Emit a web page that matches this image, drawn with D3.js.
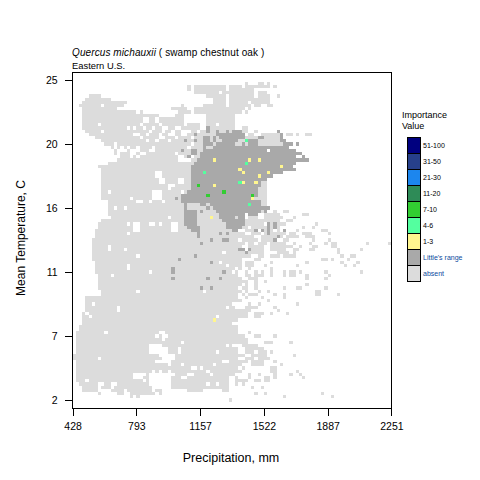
<!DOCTYPE html>
<html>
<head>
<meta charset="utf-8">
<script src="https://cdn.jsdelivr.net/npm/d3@7"></script>
<style>
  html, body { margin: 0; padding: 0; background: #fff; }
  text { font-family: "Liberation Sans", Arial, sans-serif; fill: #000; }
</style>
</head>
<body>
<svg id="chart" width="480" height="480"></svg>
<script>
const precipTicks = ['428', '793', '1157', '1522', '1887', '2251'];
const tempTicks = ['25', '20', '16', '11', '7', '2'];

const legendLabels = ['51-100', '31-50', '21-30', '11-20', '7-10', '4-6', '1-3', "Little's range", 'absent'];
const legendColors = ['#00007F', '#27408B', '#1C86EE', '#2E8B57', '#32CD32', '#54FF9F', '#FFF68F', '#A9A9A9', '#DCDCDC'];

// climate bins where the species is absent, one string per temperature row, "col" or "from-to"
const absentRows = [
  '', '', '',
  '54 58-59 61',
  '36 38-47 49-52 54-57 58-61 63',
  '36 38-47 49-56',
  '38-45 47-56 58-60',
  '5-8 42-47 49-56 58-61 64',
  '4-11 44-47 49-59 60-61',
  '3-16 44-47 49-54 56-60 61',
  '2-8 10-15 34 41-47 49-55 57-58 61-62',
  '3-13 31-35 38-53 55',
  '3-19 21 33-36 38-52 54',
  '3-26 32-34 42-50',
  '3-21 24-25 27-34 42-50',
  '3-21 24-25 27-34 42-50',
  '3-7 9-20 22-26 28-34 36-39 42-44 46-50',
  '3-16 18 20-21 23-24 26-27 30-31 34-39 43-50 53-54',
  '4-8 10-23 25-27 29-30 32-33 37-38 40-41 43-50 53-54 57',
  '5-18 21-22 24-26 28-29 32-33 36-50 55-56 59-64 67-68 70 73-74',
  '7-20 22-26 29-31 33-36 38-64',
  '9-22 24-25 27-29 31-64',
  '10-12 14-36 38-65',
  '12 14 16 18-19 21-24 26-35 37-60',
  '13-13 17 21-23 26-60',
  '13 15-17 20 23-31 33-60',
  '15-17 19 21-32 35-36 38-60',
  '14-32 37-38 41-60',
  '11-60',
  '8-60',
  '9-60',
  '9-25 28-60',
  '9-25 28-60',
  '9-26 29-32 35-60',
  '9-26 29-32 35-60',
  '9-29 32-60',
  '9-29 31-60',
  '9-10 12-24 28-33 35-60',
  '9-24 28-33 35-60',
  '9-17 19-24 28-60',
  '11-19 22-23 25-27 29-60',
  '11-60',
  '11-12 14-15 17-60',
  '11-60 63 66-67',
  '11-53 55-57 60-64 72-73',
  '12-29 31-51 53 55-57 60-65 69',
  '9-51 54-64 67-68',
  '8-16 18 21-23 26 28-30 33-51 52-59 61-62 64-66 76',
  '8-18 21-30 33-54 56-62 63-64 72 75',
  '7-18 21-30 33-51 54-57 59-62 64 66 70 78-79',
  '7-16 18-53 56-58 60-66 68-69 72-74 80',
  '7-56 59-65 67-70 73-75',
  '6-51 53-57 59-63 66-67 75 80',
  '6-53 55-56 58-60 62-66 69 74 79 81-82 92 99',
  '6-10 12-52 55-59 62-68 71 75-76 81-82',
  '6-10 12-15 17-53 55-59 62-66 69-70 74-75 83 90',
  '6-46 48-53 55-59 64-67 69 83',
  '6-19 21-55 58-59 62-64 66-69 84 87-88',
  '6-52 57-58 78-79 81 86',
  '7-45 47-50 51-52 54-56 62 73 84 89',
  '7-16 18-47 49-52 54-56 60 70 85 88',
  '7-16 18-50 52 55 62',
  '7-23 25-49 51 54 57 59 62 66 68-69 71 79 90',
  '8-11 13-51 54-55 57-59 62 66 68-69 73 80',
  '8-50 51-52 55-57 73 79',
  '8-53 54 57 60',
  '8-52 54 57 73',
  '8-51 53-54 57 66 70-71 79',
  '9-19 21-40 42-52 54 58 61 76-77',
  '9-51 53 55-57 63 66 76-77 83',
  '4-51 54 59 66',
  '4-52 61',
  '4-5 7-49 55 58 70',
  '4-13 15-47 49-50 54-57 63',
  '4-13 15-55 64',
  '3 5-54 57-59 62 67',
  '3-4 6-44 46-54 57-58',
  '3-51',
  '3-49',
  '2-51',
  '2-51',
  '1-9 11-26 29-51 55',
  '1-25 27 30-53 57-58 63',
  '1-27 29-54',
  '1-33 35-54 60-62 68',
  '1-23 28-47 49 53-57',
  '1-23 30-32 34-51 54-59',
  '1-23 30-32 34-44 46-51 54-56 58-60 62',
  '0-26 32-53 56-60 69',
  '0-7 9-27 32-51 54-56 58-61',
  '1-25 31-46 49-54 56-59 63',
  '1-29 31-33 35-43 45-52 56-59 65',
  '1-36 39 41-51 53 62-63',
  '1-24 26 28-29 31-41 43-52 62-63 70',
  '1-18 23 32-35 38-42 44-50 55 58 63 68 71',
  '1-18 22-23 31-33 36-48 51 55 60-61 63 72',
  '1-3 5-21 23 31-48 51-54 57-58 60-61',
  '2-7 10-11 14-23 31-41 43-44 46-48 51 53',
  '3-7 9-11 13-24 31-48 56 59',
  '3-7 12-15 17-24 26-27 36-40 47-48',
  '8 14-15 18-25 27 57 60 78',
  '18 20 66 81',
  '49'
];

// Little's range bins, painted over the absent ones; first entry is the row
const rangeRows = [
  [17, '42'], [18, '42 45 48 50-52 64'],
  [19, '38 45-53 65'],
  [20, '41-42 44 46-53 58-59 65'],
  [21, '35 38 41-42 44 47-51 55-57 65-66'],
  [22, '41-42 43 45-50 53 55-57 66-68 70'],
  [23, '41 44-67'],
  [24, '34 37-38 41-60 62-69'],
  [25, '37-38 40-71'],
  [26, '36 40-69 72'],
  [27, '39-73'],
  [28, '38-69'],
  [29, '37-68'],
  [30, '37-69'],
  [31, '37-65'],
  [32, '37-62'],
  [33, '37-60'],
  [34, '37-58'],
  [35, '37-58'],
  [36, '37-57'],
  [37, '36-57'],
  [38, '34-57'],
  [39, '32 34-56'],
  [40, '34-58'],
  [41, '35 40-41 43-58'],
  [42, '35 42 44-61'],
  [43, '35-38 40 45-58 60'],
  [44, '35-38 46-53 55-57'],
  [45, '35-38 46-50 52-53'],
  [46, '35-38 47-53'],
  [47, '35-38 48-53 61 63'],
  [48, '36-39 48-52 61 63'],
  [49, '37-39 50-51 57 59 61 66'],
  [50, '39 46 48 61'],
  [51, '39 64'],
  [52, '43 47-48 63'],
  [53, '40'],
  [55, '52-53 55'],
  [56, '54'],
  [57, '38'],
  [58, '33'],
  [59, '43'],
  [61, '31'], [62, '31 47'],
  [64, '31 42 46'],
  [67, '40 43']
];

// inventory plots: [row, col, legend index]
const ivCells = [
  [21, 54, 5], [27, 44, 6], [27, 55, 6], [27, 58, 6], [28, 54, 5],
  [29, 65, 6], [30, 52, 6], [31, 53, 6], [31, 41, 5], [31, 61, 6],
  [32, 58, 6], [34, 52, 5], [34, 53, 6], [34, 57, 6], [35, 44, 6],
  [35, 39, 4], [37, 47, 4], [38, 42, 4], [38, 56, 4], [39, 56, 6],
  [41, 55, 5], [45, 43, 6], [77, 44, 6]
];

const svg = d3.select('#chart');

const colX = d3.scaleLinear().domain([0, 100]).range([72.6, 391.4]);
const rowY = d3.scaleLinear().domain([0, 105]).range([72, 408]);
const xAxisScale = d3.scalePoint().domain(precipTicks).range([colX(0), colX(100)]);
const yAxisScale = d3.scalePoint().domain(tempTicks).range([rowY(2.6), rowY(102.6)]);

function parseSpans(str) {
  if (!str) return [];
  const out = [];
  str.split(' ').forEach(s => {
    const p = s.split('-').map(Number);
    const end = p.length > 1 ? p[1] : p[0];
    for (let c = p[0]; c <= end; c++) out.push(c);
  });
  return out;
}

const cells = [];
absentRows.forEach((str, r) => {
  parseSpans(str).forEach(c => cells.push({ r, c, color: legendColors[8] }));
});
rangeRows.forEach(([r, str]) => {
  parseSpans(str).forEach(c => cells.push({ r, c, color: legendColors[7] }));
});
ivCells.forEach(([r, c, k]) => cells.push({ r, c, color: legendColors[k] }));

svg.append('g')
  .attr('shape-rendering', 'crispEdges')
  .selectAll('rect')
  .data(cells)
  .enter()
  .append('rect')
  .attr('x', d => Math.round(colX(d.c)))
  .attr('y', d => Math.round(rowY(d.r)))
  .attr('width', d => Math.round(colX(d.c + 1)) - Math.round(colX(d.c)))
  .attr('height', d => Math.round(rowY(d.r + 1)) - Math.round(rowY(d.r)))
  .attr('fill', d => d.color);

// box and axes
svg.append('rect')
  .attr('x', colX(0)).attr('y', rowY(0))
  .attr('width', colX(100) - colX(0)).attr('height', rowY(105) - rowY(0))
  .attr('fill', 'none').attr('stroke', '#000').attr('stroke-width', 1)
  .attr('shape-rendering', 'crispEdges');

const xAxis = svg.append('g')
  .attr('transform', `translate(0,${rowY(105)})`)
  .call(d3.axisBottom(xAxisScale).tickSize(8).tickPadding(7));
const yAxis = svg.append('g')
  .attr('transform', `translate(${colX(0)},0)`)
  .call(d3.axisLeft(yAxisScale).tickSize(8).tickPadding(7));

[xAxis, yAxis].forEach(a => {
  a.select('.domain').remove();
  a.selectAll('line').attr('stroke', '#000').attr('shape-rendering', 'crispEdges');
  a.selectAll('text').attr('font-size', 10.5).attr('font-family', '"Liberation Sans", Arial, sans-serif').attr('fill', '#000');
});

// titles
const title = svg.append('text').attr('x', 72).attr('y', 56).attr('font-size', 10).attr('letter-spacing', 0.1);
title.append('tspan').attr('font-style', 'italic').text('Quercus michauxii');
title.append('tspan').text(' ( swamp chestnut oak )');
svg.append('text').attr('x', 72).attr('y', 69).attr('font-size', 9.4).text('Eastern U.S.');

svg.append('text')
  .attr('x', 231).attr('y', 462).attr('text-anchor', 'middle')
  .attr('font-size', 12.5).text('Precipitation, mm');
svg.append('text')
  .attr('transform', 'translate(25,238) rotate(-90)').attr('text-anchor', 'middle')
  .attr('font-size', 12).text('Mean Temperature, C');

// legend
svg.append('text').attr('x', 402).attr('y', 118).attr('font-size', 9).text('Importance');
svg.append('text').attr('x', 402).attr('y', 129).attr('font-size', 9).text('Value');

const legendY = d3.scaleBand().domain(legendLabels).range([137.5, 281.5]);
const legend = svg.append('g')
  .selectAll('g')
  .data(legendLabels)
  .enter()
  .append('g')
  .attr('transform', d => `translate(0,${legendY(d)})`);
legend.append('rect')
  .attr('x', 407.5).attr('width', 13).attr('height', legendY.bandwidth())
  .attr('fill', (d, i) => legendColors[i])
  .attr('stroke', '#000').attr('stroke-width', 1)
  .attr('shape-rendering', 'crispEdges');
legend.append('text')
  .attr('x', 423).attr('y', legendY.bandwidth() / 2 + 2.5)
  .attr('font-size', 7)
  .style('fill', (d, i) => i >= 7 ? '#0b4a9e' : '#000')
  .text(d => d);
</script>
</body>
</html>
